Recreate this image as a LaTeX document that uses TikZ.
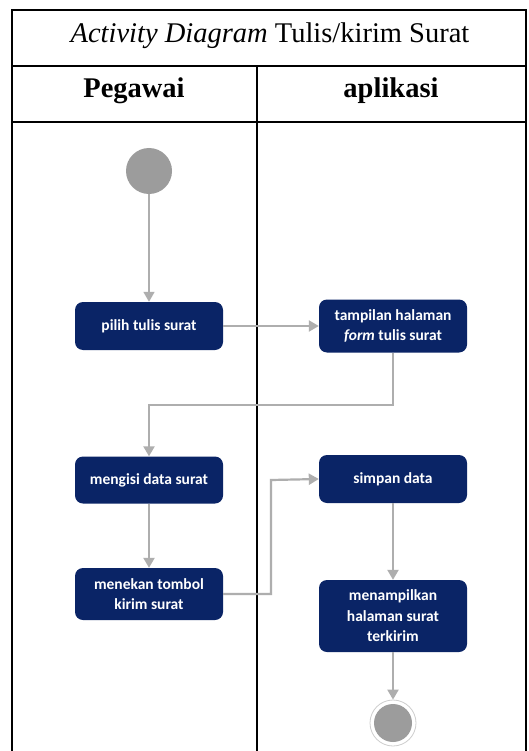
\documentclass[tikz,border=0pt]{standalone}
\usepackage{fontspec}
\setmainfont{Liberation Serif}
\newfontfamily\boxfont{Carlito}
\usetikzlibrary{arrows.meta}
\definecolor{navy}{HTML}{0A2466}
\definecolor{flowgray}{HTML}{AEAEAE}
\definecolor{dotgray}{HTML}{9C9C9C}
\tikzset{
  actbox/.style={draw=none, fill=navy, rounded corners=8pt, minimum width=148pt,
    text=white, align=center, font=\boxfont\bfseries\fontsize{15.5}{20.5}\selectfont,
    inner sep=2pt},
  flow/.style={draw=flowgray, line width=2.2pt,
    -{Triangle[length=10pt, width=11pt]}},
  frame/.style={draw=black, line width=1.3pt},
  headtext/.style={font=\fontsize{28.5}{32}\selectfont},
}
\begin{document}
\begin{tikzpicture}[x=1pt, y=-1pt]
\useasboundingbox (0,0) rectangle (528,751);
\fill[white] (0,0) rectangle (528,751);

% table frame
\draw[frame] (12,751) -- (12,10) -- (526,10) -- (526,751);
\draw[frame] (12,66) -- (526,66);
\draw[frame, line width=2pt] (12,122) -- (526,122);
\draw[frame] (257,66) -- (257,751);

\node[headtext] (title) at (270,36) {\textit{Activity Diagram} Tulis/kirim Surat};
\node[headtext] (lane1) at (134,91) {\bfseries Pegawai};
\node[headtext] (lane2) at (391,91) {\bfseries aplikasi};

% start and end
\node[circle, fill=dotgray, minimum size=46pt, inner sep=0pt] (start) at (149,171) {};
\node[circle, draw=flowgray!60, line width=0.8pt, fill=white, minimum size=46pt, inner sep=0pt] (endring) at (393,723) {};
\node[circle, fill=dotgray, minimum size=38pt, inner sep=0pt] (end) at (393,723) {};

% activities
\node[actbox, minimum height=48pt] (pilih) at (149,326) {pilih tulis surat};
\node[actbox, minimum height=53pt] (tampil) at (393,326) {tampilan halaman\\\textit{form} tulis surat};
\node[actbox, minimum height=47pt] (isi) at (149,480) {mengisi data surat};
\node[actbox, minimum height=48pt] (simpan) at (393,479) {simpan data};
\node[actbox, minimum height=52pt] (tekan) at (149,594) {menekan tombol\\kirim surat};
\node[actbox, minimum height=72pt] (tampil2) at (393,616) {menampilkan\\halaman surat\\terkirim};

% flows
\draw[flow, line width=1.6pt] (start) -- (pilih);
\draw[flow] (pilih) -- (tampil);
\draw[flow] (tampil.south) |- (149,405) -- (isi.north);
\draw[flow] (isi) -- (tekan);
\draw[flow] (tekan.east) -| (271,480) -- (simpan.west);
\draw[flow] (simpan) -- (tampil2);
\draw[flow] (tampil2) -- (endring);
\end{tikzpicture}
\end{document}
